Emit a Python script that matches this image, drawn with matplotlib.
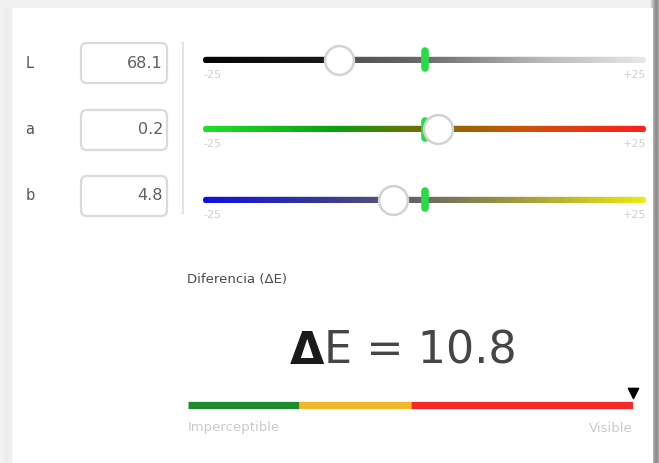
import numpy as np
import matplotlib
matplotlib.use('Agg')
import matplotlib.pyplot as plt
from matplotlib.colors import LinearSegmentedColormap
from matplotlib.patches import FancyBboxPatch, Rectangle

# values read from the widget
channels = ['L', 'a', 'b']
values = ['68.1', '0.2', '4.8']
deltas = [-9.7, 1.5, -3.6]          # slider offsets, range -25..+25
slider_min, slider_max = -25, 25
tick_labels = ['-25', '+25']
delta_e = 10.8
scale_edges = [0, 1, 2, 4]           # imperceptible -> visible
scale_colors = ['#1f8a2e', '#f2b82a', '#f42a2a']
scale_labels = ['Imperceptible', 'Visible']

track_cmaps = [
    LinearSegmentedColormap.from_list('L', [(0, '#050505'), (0.28, '#1a1a1a'), (0.32, '#505050'),
                                             (0.5, '#6a6a6a'), (0.75, '#b5b5b5'), (1, '#e8e8e8')]),
    LinearSegmentedColormap.from_list('a', [(0, '#22e02a'), (0.3, '#0aa010'), (0.5, '#7a6a00'),
                                             (0.7, '#c45a08'), (1, '#ff1e1e')]),
    LinearSegmentedColormap.from_list('b', [(0, '#1010e0'), (0.3, '#3c3c90'), (0.5, '#6a6a60'),
                                             (0.75, '#aaa53a'), (1, '#eeea10')]),
]

W, H = 659, 463
fig = plt.figure(figsize=(W / 100, H / 100), dpi=100)
fig.patch.set_facecolor('#f1f1f1')

def px_axes(x0, y0, x1, y1, z=1):
    a = fig.add_axes([x0 / W, 1 - y1 / H, (x1 - x0) / W, (y1 - y0) / H], zorder=z)
    a.axis('off')
    return a

# base axes in pixel coords
ax = px_axes(0, 0, W, H, 0)
ax.set_xlim(0, W)
ax.set_ylim(H, 0)

# card + edges
ax.add_patch(Rectangle((13, 8), 640, 470, facecolor='white', edgecolor='none'))
grad = np.linspace(0, 1, 50).reshape(1, -1)
ax.imshow(grad, extent=(650, 659, H, 0), aspect='auto',
          cmap=LinearSegmentedColormap.from_list('edge', ['#f0f0f0', '#b8b8b8', '#8a8a8a', '#a8a8a8']))
ax.imshow(grad, extent=(0, 13, H, 8), aspect='auto',
          cmap=LinearSegmentedColormap.from_list('ledge', ['#f6f6f6', '#ececec', '#f4f4f4']))
ax.set_xlim(0, W)
ax.set_ylim(H, 0)

# channel labels and value boxes
row_y = [63, 130, 196]
for ch, val, y in zip(channels, values, row_y):
    ax.text(30, y, ch, fontsize=10.5, color='#555555', va='center', ha='center')
    ax.add_patch(FancyBboxPatch((81, y - 20), 86, 40, boxstyle='round,pad=0,rounding_size=6',
                                facecolor='white', edgecolor='#dadada', lw=1.6))
    ax.text(163, y, val, fontsize=11.5, color='#606060', va='center', ha='right')

ax.plot([183, 183], [43, 213], color='#e4e4e4', lw=1.5)

# sliders
track_x0, track_x1 = 203, 646
track_y = [60, 129, 200]
ppu = (track_x1 - track_x0) / (slider_max - slider_min)   # px per unit
half_h = 22
for d, ty, cmap in zip(deltas, track_y, track_cmaps):
    sa = px_axes(track_x0, ty - half_h, track_x1, ty + half_h)
    sa.set_xlim(slider_min, slider_max)
    sa.set_ylim(half_h / ppu, -half_h / ppu)
    th = 3.2 / ppu
    im = sa.imshow(np.linspace(0, 1, 256).reshape(1, -1), extent=(slider_min, slider_max, th, -th),
                   aspect='auto', cmap=cmap, zorder=1)
    clip = FancyBboxPatch((slider_min, -th), slider_max - slider_min, 2 * th,
                          boxstyle='round,pad=0,rounding_size=%f' % th,
                          facecolor='none', edgecolor='none', transform=sa.transData)
    sa.add_patch(clip)
    im.set_clip_path(clip)
    sa.set_xlim(slider_min, slider_max)
    sa.set_ylim(half_h / ppu, -half_h / ppu)
    # reference marker at 0
    sa.plot([0, 0], [-8.5 / ppu, 8.5 / ppu], color='#28dc48', lw=5.5, solid_capstyle='round',
            zorder=2, clip_on=False)
    # thumb
    sa.scatter([d], [0], s=430, facecolor='white', edgecolor='#d2d2d2', linewidth=1.8,
               zorder=3, clip_on=False)
    sa.text(slider_min, 15 / ppu, tick_labels[0], fontsize=8, color='#d0d0d0',
            ha='left', va='center', clip_on=False)
    sa.text(slider_max, 15 / ppu, tick_labels[1], fontsize=8, color='#d0d0d0',
            ha='right', va='center', clip_on=False)

# delta E
ax.text(187, 280, 'Diferencia (ΔE)', fontsize=9.5, color='#4a4a4a', va='center', ha='left')
t1 = ax.text(290, 351, 'Δ', fontsize=32, fontweight='bold', color='#1a1a1a',
             va='center', ha='left')
ax.annotate('E = %.1f' % delta_e, xy=(1, 0.5), xycoords=t1,
            fontsize=32, color='#454545', va='center', ha='left')

# delta E scale
sc = px_axes(188, 385, 633, 420)
sc.set_xlim(scale_edges[0], scale_edges[-1])
sc.set_ylim(35, 0)
for x0, x1, c in zip(scale_edges[:-1], scale_edges[1:], scale_colors):
    sc.hlines(20, x0, x1, color=c, lw=5.2)
sc.scatter([min(delta_e, scale_edges[-1])], [8], marker='v', s=55, color='black',
           zorder=3, clip_on=False)
ax.text(188, 428, scale_labels[0], fontsize=9.5, color='#cacaca', va='center', ha='left')
ax.text(633, 428, scale_labels[1], fontsize=9.5, color='#cacaca', va='center', ha='right')

fig.savefig('out.png', dpi=100, facecolor=fig.get_facecolor())
